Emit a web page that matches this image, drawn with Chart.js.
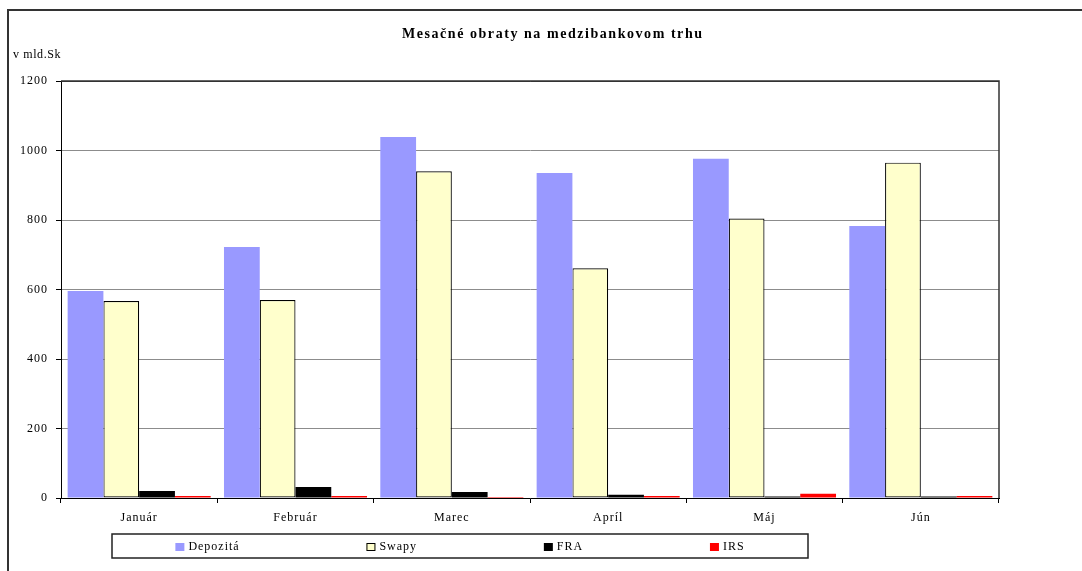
<!DOCTYPE html>
<html>
<head>
<meta charset="utf-8">
<script src="https://cdn.jsdelivr.net/npm/chart.js@4/dist/chart.umd.min.js"></script>
<style>
  html, body { margin:0; padding:0; background:#fff; }
  #wrap { width:1082px; height:571px; position:relative; }
</style>
</head>
<body>
<div id="wrap"><canvas id="c" width="1082" height="571"></canvas></div>
<script>
const TITLE = 'Mesačné obraty na medzibankovom trhu';
const UNIT_LABEL = 'v mld.Sk';
const categories = ['Január', 'Február', 'Marec', 'Apríl', 'Máj', 'Jún'];
const seriesNames = ['Depozitá', 'Swapy', 'FRA', 'IRS'];
const depozita = [596, 722, 1039, 935, 976, 783];
const swapy = [567, 570, 940, 661, 804, 965];
const fra = [20, 32, 17, 9, 4, 4];
const irs = [6, 6, 3, 6, 12, 6];
const yTicks = [0, 200, 400, 600, 800, 1000, 1200];

const colors = ['#9999FF', '#FFFFCC', '#000000', '#FF0000'];
const borders = [0, 1.2, 0, 0];
const SERIF = '"Liberation Serif", "DejaVu Serif", serif';
const SPACING = '1px';

function setSpacing(chart){ try { chart.ctx.letterSpacing = SPACING; } catch(e){} }

const decor = {
  id: 'decor',
  beforeUpdate(chart){ setSpacing(chart); },
  beforeLayout(chart){ setSpacing(chart); },
  beforeDraw(chart){
    const ctx = chart.ctx;
    ctx.save();
    ctx.fillStyle = '#fff';
    ctx.fillRect(0, 0, chart.width, chart.height);
    ctx.restore();
    setSpacing(chart);
  },
  afterDraw(chart){
    const ctx = chart.ctx, a = chart.chartArea;
    ctx.save();
    // outer frame
    ctx.letterSpacing = '0px';
    ctx.strokeStyle = '#333';
    ctx.lineWidth = 2;
    ctx.strokeRect(8, 10, chart.width + 40, chart.height + 40);
    // plot area top / right border
    ctx.strokeStyle = '#333';
    ctx.lineWidth = 1.5;
    ctx.beginPath();
    ctx.moveTo(a.left, a.top);
    ctx.lineTo(a.right, a.top);
    ctx.lineTo(a.right, a.bottom);
    ctx.stroke();

    // title
    ctx.fillStyle = '#000';
    ctx.font = 'bold 14px ' + SERIF;
    ctx.letterSpacing = '0px';
    const w0 = ctx.measureText(TITLE).width;
    const sp = Math.max(0, (300 - w0) / (TITLE.length - 1));
    ctx.letterSpacing = sp + 'px';
    ctx.textAlign = 'left';
    ctx.textBaseline = 'alphabetic';
    ctx.fillText(TITLE, 402, 38);

    // unit label
    ctx.font = '12px ' + SERIF;
    ctx.letterSpacing = '0.6px';
    ctx.fillText(UNIT_LABEL, 13, 58);

    // legend
    ctx.letterSpacing = SPACING;
    const bx = 112, by = 534, bw = 696, bh = 24;
    ctx.strokeStyle = '#222';
    ctx.lineWidth = 1.5;
    ctx.strokeRect(bx, by, bw, bh);
    const mW = 9, mH = 8, gapT = 4;
    const ds = chart.data.datasets;
    const widths = ds.map(d => mW + gapT + ctx.measureText(d.label).width);
    const total = widths.reduce((s, v) => s + v, 0);
    const gap = (bw - total) / ds.length;
    let x = bx + gap / 2;
    ds.forEach((d, i) => {
      ctx.fillStyle = d.backgroundColor;
      ctx.fillRect(x, 543, mW, mH);
      if (d.borderWidth) {
        ctx.strokeStyle = '#000';
        ctx.lineWidth = 1;
        ctx.strokeRect(x + 0.5, 543.5, mW - 1, mH - 1);
      }
      ctx.fillStyle = '#000';
      ctx.textBaseline = 'middle';
      ctx.fillText(d.label, x + mW + gapT, 547);
      x += widths[i] + gap;
    });
    ctx.restore();
  }
};

const seriesData = [depozita, swapy, fra, irs];
new Chart(document.getElementById('c'), {
  type: 'bar',
  data: {
    labels: categories,
    datasets: seriesNames.map((n, i) => ({
      label: n,
      data: seriesData[i],
      backgroundColor: colors[i],
      borderColor: '#000',
      borderWidth: borders[i],
      borderSkipped: false,
      categoryPercentage: 0.915,
      barPercentage: 1.0
    }))
  },
  options: {
    responsive: false,
    animation: false,
    devicePixelRatio: 1,
    layout: { padding: { top: 81, right: 83, bottom: 43, left: 0 } },
    plugins: {
      legend: { display: false },
      title: { display: false },
      tooltip: { enabled: false }
    },
    scales: {
      x: {
        grid: { display: true, drawOnChartArea: false, offset: true, tickLength: 5, tickColor: '#000', lineWidth: 1 },
        border: { display: true, color: '#000', width: 1 },
        ticks: { color: '#000', font: { family: SERIF, size: 12 }, padding: 8, maxRotation: 0 },
        afterFit(s){ s.height = 30; }
      },
      y: {
        min: 0, max: 1200,
        afterBuildTicks(s){ s.ticks = yTicks.map(v => ({ value: v })); },
        grid: {
          color: c => (c.tick && c.tick.value === 1200) ? '#333' : '#8c8c8c',
          tickColor: '#000', tickLength: 5, lineWidth: 1
        },
        border: { display: true, color: '#000', width: 1 },
        ticks: { color: '#000', font: { family: SERIF, size: 12 }, padding: 8, callback: v => String(v) },
        afterFit(s){ s.width = 61; }
      }
    }
  },
  plugins: [decor]
});
</script>
</body>
</html>
